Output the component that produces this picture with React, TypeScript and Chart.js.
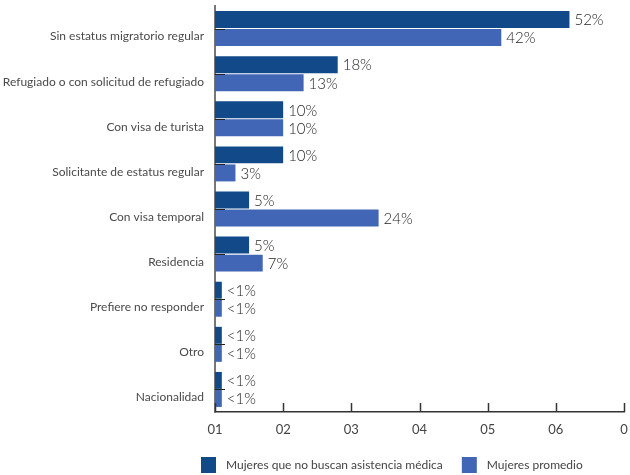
import React, { useEffect, useRef } from 'react';
import { Chart, registerables } from 'chart.js';

Chart.register(...registerables);

const categories = [
  'Sin estatus migratorio regular',
  'Refugiado o con solicitud de refugiado',
  'Con visa de turista',
  'Solicitante de estatus regular',
  'Con visa temporal',
  'Residencia',
  'Prefiere no responder',
  'Otro',
  'Nacionalidad',
];
const seriesNames = ['Mujeres que no buscan asistencia médica', 'Mujeres promedio'];
const noAsistencia = [0.52, 0.18, 0.1, 0.1, 0.05, 0.05, 0.01, 0.01, 0.01];
const promedio = [0.42, 0.13, 0.1, 0.03, 0.24, 0.07, 0.01, 0.01, 0.01];
const noAsistenciaLabels = ['52%', '18%', '10%', '10%', '5%', '5%', '<1%', '<1%', '<1%'];
const promedioLabels = ['42%', '13%', '10%', '3%', '24%', '7%', '<1%', '<1%', '<1%'];
const xTickValues = [0, 0.1, 0.2, 0.3, 0.4, 0.5, 0.6];
const xTickLabels = ['01', '02', '03', '04', '05', '06', '0'];

const DARK = '#124A89';
const LIGHT = '#4266B6';
const FONT = 'Lato, "Open Sans", sans-serif';

const valueLabels = [noAsistenciaLabels, promedioLabels];

const decorPlugin = {
  id: 'decor',
  afterDatasetsDraw(chart: any) {
    const ctx = chart.ctx;
    const area = chart.chartArea;
    const xs = chart.scales.x;
    const ys = chart.scales.y;
    ctx.save();
    // inward ticks on x axis
    ctx.strokeStyle = '#333';
    ctx.lineWidth = 1.5;
    xTickValues.forEach((v) => {
      const px = Math.round(xs.getPixelForValue(v)) + 0.5;
      ctx.beginPath();
      ctx.moveTo(px, area.bottom);
      ctx.lineTo(px, area.bottom - 9);
      ctx.stroke();
    });
    // inward ticks on y axis at category centres
    ctx.strokeStyle = '#222';
    ctx.lineWidth = 1;
    categories.forEach((_, i) => {
      const py = Math.round(ys.getPixelForValue(i)) + 0.5;
      ctx.beginPath();
      ctx.moveTo(area.left, py);
      ctx.lineTo(area.left + 10, py);
      ctx.stroke();
    });
    // value labels
    ctx.font = '300 15px ' + FONT;
    ctx.fillStyle = '#1e1e1e';
    ctx.textAlign = 'left';
    ctx.textBaseline = 'middle';
    chart.data.datasets.forEach((_: any, di: number) => {
      const meta = chart.getDatasetMeta(di);
      meta.data.forEach((bar: any, i: number) => {
        ctx.fillText(valueLabels[di][i], bar.x + 5, bar.y + 1);
      });
    });
    ctx.restore();
  },
  afterDraw(chart: any) {
    const ctx = chart.ctx;
    const area = chart.chartArea;
    ctx.save();
    ctx.font = '12px ' + FONT;
    ctx.textBaseline = 'middle';
    ctx.textAlign = 'left';
    let x = area.left - 14;
    const yc = 465;
    const colors = [DARK, LIGHT];
    seriesNames.forEach((name, i) => {
      ctx.fillStyle = colors[i];
      ctx.fillRect(x, yc - 8, 15, 16);
      ctx.fillStyle = '#444';
      ctx.fillText(name, x + 25, yc);
      x += 25 + ctx.measureText(name).width + 19;
    });
    ctx.restore();
  },
};

export default function App() {
  const ref = useRef<HTMLCanvasElement>(null);
  useEffect(() => {
    document.body.style.margin = '0';
    const chart = new Chart(ref.current!, {
      type: 'bar',
      data: {
        labels: categories,
        datasets: [
          { label: seriesNames[0], data: noAsistencia, backgroundColor: DARK },
          { label: seriesNames[1], data: promedio, backgroundColor: LIGHT },
        ],
      },
      options: {
        indexAxis: 'y',
        animation: false,
        responsive: false,
        layout: { padding: { top: 6, right: 6, left: 0, bottom: 0 } },
        datasets: { bar: { categoryPercentage: 0.8, barPercentage: 0.94 } },
        plugins: { legend: { display: false }, tooltip: { enabled: false } },
        scales: {
          x: {
            min: 0,
            max: 0.6,
            afterBuildTicks: (s: any) => {
              s.ticks = xTickValues.map((v) => ({ value: v }));
            },
            afterFit: (s: any) => {
              s.height = 63;
              s.paddingLeft = 0;
              s.paddingRight = 0;
            },
            grid: { display: false, drawTicks: false },
            border: { display: true, color: '#333', width: 1.5 },
            ticks: {
              padding: 10,
              color: '#444',
              font: { family: FONT, size: 13 },
              maxRotation: 0,
              autoSkip: false,
              callback: (_v: any, i: number) => xTickLabels[i],
            },
          },
          y: {
            afterFit: (s: any) => {
              s.width = 215;
              s.paddingTop = 0;
              s.paddingBottom = 0;
            },
            grid: { display: false, drawTicks: false },
            border: { display: true, color: '#777', width: 2 },
            ticks: {
              padding: 11,
              labelOffset: 8,
              color: '#4a4a4a',
              font: { family: FONT, size: 12 },
              autoSkip: false,
            },
          },
        },
      },
      plugins: [decorPlugin],
    });
    return () => chart.destroy();
  }, []);
  return (
    <div style={{ width: 630, height: 475 }}>
      <canvas ref={ref} width={630} height={475} style={{ display: 'block' }} />
    </div>
  );
}
